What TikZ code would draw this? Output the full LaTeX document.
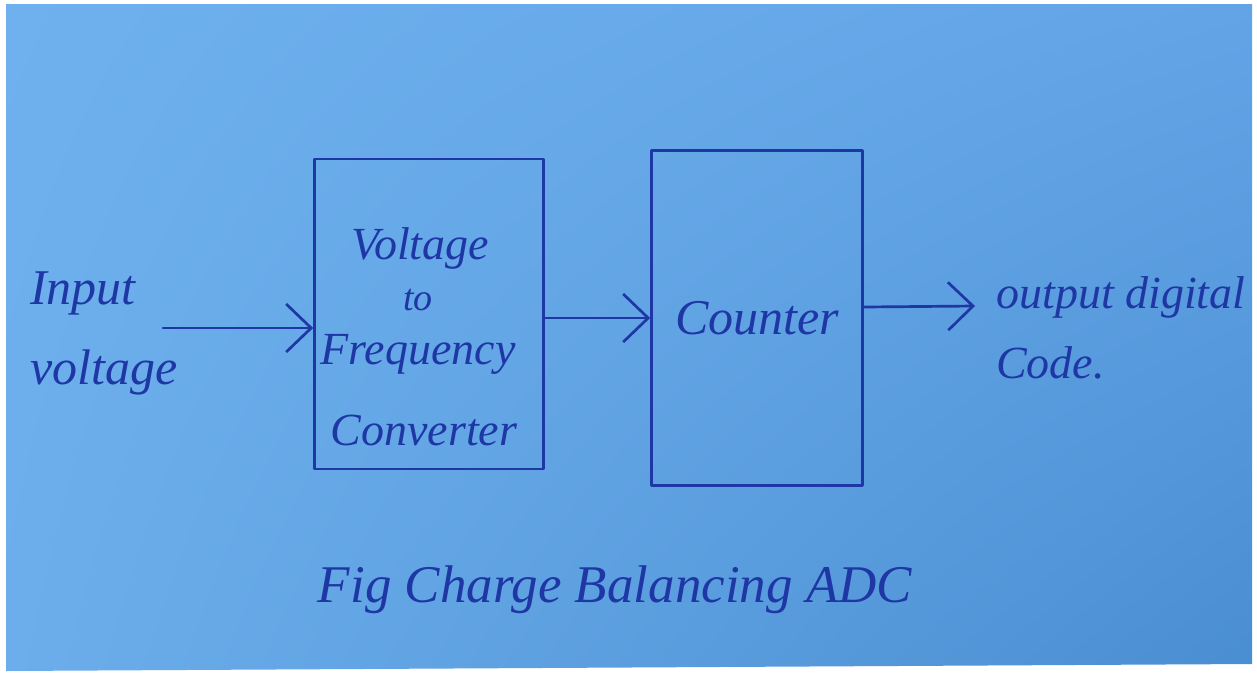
\documentclass[tikz,border=0pt]{standalone}
\usepackage{fontspec}
\setmainfont{Liberation Serif}
\usetikzlibrary{arrows.meta,shadings}
\definecolor{ink}{RGB}{30,55,165}
\definecolor{paperTL}{RGB}{110,177,238}
\definecolor{paperTR}{RGB}{98,164,230}
\definecolor{paperBL}{RGB}{108,174,235}
\definecolor{paperBR}{RGB}{74,142,210}
\tikzset{
  pen/.style={draw=ink, line width=2.7pt, line cap=round, line join=round},
  blockbox/.style={pen, rectangle, inner sep=0pt},
  hand/.style={text=ink, font=\itshape\fontsize{46}{50}\selectfont, inner sep=0pt},
  arr/.style={pen, -{Straight Barb[length=25pt,width=48pt,line width=2.7pt]}},
}
\begin{document}
\begin{tikzpicture}[x=1pt,y=-1pt]
\useasboundingbox (0,0) rectangle (1257,673);
\clip (0,0) rectangle (1257,673);
\fill[white] (0,0) rectangle (1257,673);
\shade[upper left=paperTL, upper right=paperTR, lower left=paperBL, lower right=paperBR]
  (6,4) -- (1252,4) -- (1252,664) -- (6,671) -- cycle;

% blocks
\node[blockbox, minimum width=229pt, minimum height=310pt] (vfc) at (429,314) {};
\node[blockbox, minimum width=211pt, minimum height=335pt, hand, font=\itshape\fontsize{50}{54}\selectfont] (cnt) at (757,318) {Counter};

% text inside V-to-F block
\node[hand] (l1) at (420,248) {Voltage};
\node[hand, font=\itshape\fontsize{38}{40}\selectfont] (l2) at (418,300) {to};
\node[hand] (l3) at (418,354) {Frequency};
\node[hand] (l4) at (424,430) {Converter};

% input label
\node[hand, font=\itshape\fontsize{50}{80}\selectfont, align=left, anchor=north west] (inp) at (30,272) {Input\\voltage};

% output label
\node[hand, font=\itshape\fontsize{46}{70}\selectfont, align=left, anchor=north west] (outp) at (996,276) {output digital\\Code.};

% caption
\node[hand, font=\itshape\fontsize{53}{58}\selectfont] (cap) at (615,590) {Fig Charge Balancing ADC};

% connectors
\coordinate (a1s) at (163,328);
\coordinate (a2s) at (vfc.east |- 0,318);
\coordinate (a3s) at (cnt.east |- 0,307);
\coordinate (a3e) at (975,306);
\draw[arr] (a1s) -- (vfc.west |- a1s);
\draw[arr] (a2s) -- (cnt.west |- a2s);
\draw[arr] (a3s) -- (a3e);
\end{tikzpicture}
\end{document}
